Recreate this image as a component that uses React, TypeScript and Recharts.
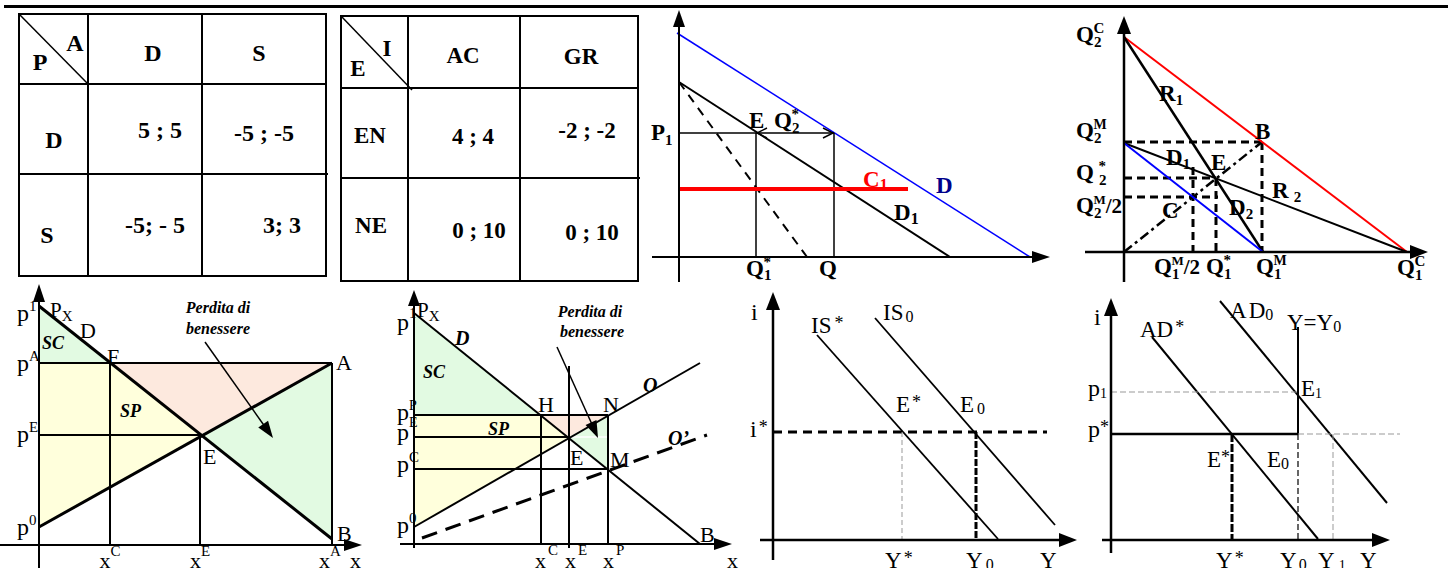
import React from 'react';
import { ComposedChart, Line, Area, XAxis, YAxis, ReferenceLine, ReferenceDot } from 'recharts';

type Pt = { q: number; p: number };
type Rg = { q: number; r: [number, number] };

// payoff tables
const tabACols = ['D', 'S'];
const tabARows = ['D', 'S'];
const tabAPay = [['5 ; 5', '-5 ; -5'], ['-5; - 5', '3; 3']];
const tabBCols = ['AC', 'GR'];
const tabBRows = ['EN', 'NE'];
const tabBPay = [['4 ; 4', '-2 ; -2'], ['0 ; 10', '0 ; 10']];

// market: total demand D, residual demand D1, its marginal revenue, cost C1
const mktD: Pt[] = [{ q: -2, p: 224 }, { q: 351, p: 0 }];
const mktD1: Pt[] = [{ q: 0, p: 175 }, { q: 271, p: 0 }];
const mktMR: Pt[] = [{ q: 0, p: 175 }, { q: 128, p: 0 }];
const mktC1: Pt[] = [{ q: 0, p: 68 }, { q: 229, p: 68 }];
const mktLevels = [124, 77, 155]; // P1, Q1*, Q

// cournot reaction functions
const crRed: Pt[] = [{ q: 0, p: 215 }, { q: 283, p: 0 }];
const crR1: Pt[] = [{ q: 0, p: 215 }, { q: 139, p: 0 }];
const crR2: Pt[] = [{ q: 0, p: 109 }, { q: 283, p: 0 }];
const crBlue: Pt[] = [{ q: 0, p: 109 }, { q: 139, p: 0 }];
const crDiag: Pt[] = [{ q: 0, p: 0 }, { q: 138, p: 110 }];
const crPoints = [[138, 110], [92, 74], [69, 55]]; // B, E, C

// welfare 1 (price ceiling)
const w1Demand: Pt[] = [{ q: 0, p: 239 }, { q: 293, p: 6 }];
const w1Supply: Pt[] = [{ q: 0, p: 18 }, { q: 293, p: 182 }];
const w1Prices = [182, 110]; // pA, pE
const w1Qty = [71, 161, 293]; // xC, xE, xA
const w1SC: Rg[] = [{ q: 0, r: [182, 239] }, { q: 71, r: [182, 182] }];
const w1SP: Rg[] = [{ q: 0, r: [18, 182] }, { q: 71, r: [58, 182] }, { q: 161, r: [110, 110] }];
const w1Loss: Rg[] = [{ q: 71, r: [182, 182] }, { q: 161, r: [110, 182] }, { q: 293, r: [182, 182] }];
const w1Green: Rg[] = [{ q: 161, r: [110, 110] }, { q: 293, r: [6, 182] }];

// welfare 2 (subsidy)
const w2Demand: Pt[] = [{ q: 0, p: 231 }, { q: 286, p: 0 }];
const w2Supply: Pt[] = [{ q: 0, p: 17 }, { q: 286, p: 181 }];
const w2Supply2: Pt[] = [{ q: 8, p: 6 }, { q: 293, p: 109 }];
const w2Prices = [129, 107, 75]; // pP, pE, pC
const w2Qty = [127, 155, 194]; // xC, xE, xP
const w2SC: Rg[] = [{ q: 0, r: [129, 231] }, { q: 127, r: [129, 129] }];
const w2SP: Rg[] = [{ q: 0, r: [17, 129] }, { q: 127, r: [90, 129] }, { q: 155, r: [107, 107] }];
const w2Loss: Rg[] = [{ q: 127, r: [129, 129] }, { q: 155, r: [107, 129] }, { q: 194, r: [129, 129] }];
const w2Green: Rg[] = [{ q: 155, r: [107, 107] }, { q: 194, r: [74, 129] }];

// IS
const isStar: Pt[] = [{ q: 44, p: 205 }, { q: 225, p: 1 }];
const isZero: Pt[] = [{ q: 102, p: 222 }, { q: 282, p: 15 }];
const isLevels = [108, 129, 203]; // i*, Y*, Y0

// AD
const adStar: Pt[] = [{ q: 41, p: 203 }, { q: 207, p: 1 }];
const adZero: Pt[] = [{ q: 109, p: 239 }, { q: 276, p: 37 }];
const adPrices = [106, 148, 213]; // p*, p1, top of Y=Y0
const adQty = [121, 187, 222, 289]; // Y*, Y0, Y1, end of guide

const SERIF = '"Liberation Serif", "Times New Roman", serif';

let kc = 0;
const k = () => `k${kc++}`;

type Part = string | { t: string; b?: number; s?: number; dx?: number };
type LabOpt = { size?: number; bold?: boolean; italic?: boolean; anchor?: 'start' | 'middle' | 'end'; fill?: string };

function lab(x: number, y: number, parts: Part[], o: LabOpt = {}) {
  return (
    <ReferenceDot
      key={k()}
      x={x}
      y={y}
      r={1}
      ifOverflow="visible"
      shape={(p: any) => {
        let cur = 0;
        return (
          <text
            x={p.cx}
            y={p.cy}
            fontFamily={SERIF}
            fontSize={o.size ?? 22}
            fontWeight={o.bold ? 700 : 400}
            fontStyle={o.italic ? 'italic' : 'normal'}
            textAnchor={o.anchor ?? 'start'}
            fill={o.fill ?? '#000'}
          >
            {parts.map((pt, i) => {
              const d = typeof pt === 'string' ? { t: pt } : pt;
              const b = d.b ?? 0;
              const dy = b - cur;
              cur = b;
              return (
                <tspan key={i} dy={dy} dx={d.dx} fontSize={d.s}>
                  {d.t}
                </tspan>
              );
            })}
          </text>
        );
      }}
    />
  );
}

function seg(x1: number, y1: number, x2: number, y2: number, w = 1.5, stroke = '#000', dash?: string) {
  return (
    <ReferenceLine
      key={k()}
      segment={[{ x: x1, y: y1 }, { x: x2, y: y2 }]}
      stroke={stroke}
      strokeWidth={w}
      strokeDasharray={dash}
      ifOverflow="visible"
    />
  );
}

function head(x: number, y: number, dq: number, dp: number, len = 16, half = 6, open = false) {
  return (
    <ReferenceDot
      key={k()}
      x={x}
      y={y}
      r={1}
      ifOverflow="visible"
      shape={(p: any) => {
        const n = Math.hypot(dq, dp);
        const ux = dq / n;
        const uy = -dp / n;
        const bx = p.cx - ux * len;
        const by = p.cy - uy * len;
        const a = [bx - uy * half, by + ux * half];
        const c = [bx + uy * half, by - ux * half];
        if (open) {
          return <polyline points={`${a[0]},${a[1]} ${p.cx},${p.cy} ${c[0]},${c[1]}`} fill="none" stroke="#000" strokeWidth={1.5} />;
        }
        return <polygon points={`${p.cx},${p.cy} ${a[0]},${a[1]} ${c[0]},${c[1]}`} fill="#000" />;
      }}
    />
  );
}

function ln(data: Pt[], w = 2, stroke = '#000', dash?: string) {
  return (
    <Line
      key={k()}
      data={data}
      dataKey="p"
      type="linear"
      stroke={stroke}
      strokeWidth={w}
      strokeDasharray={dash}
      dot={false}
      activeDot={false}
      isAnimationActive={false}
      legendType="none"
    />
  );
}

function fill(data: Rg[], color: string) {
  return (
    <Area
      key={k()}
      data={data}
      dataKey="r"
      type="linear"
      stroke="none"
      fill={color}
      fillOpacity={1}
      dot={false}
      activeDot={false}
      isAnimationActive={false}
      legendType="none"
    />
  );
}

function panel(left: number, top: number, width: number, height: number, xd: [number, number], yd: [number, number], kids: React.ReactNode[]) {
  return (
    <div key={k()} style={{ position: 'absolute', left, top, width, height }}>
      <ComposedChart width={width} height={height} margin={{ top: 0, right: 0, bottom: 0, left: 0 }}>
        <XAxis type="number" dataKey="q" domain={xd} hide allowDataOverflow />
        <YAxis type="number" domain={yd} hide allowDataOverflow />
        {kids}
      </ComposedChart>
    </div>
  );
}

const GREEN = '#e2fae2';
const YELLOW = '#ffffdc';
const PINK = '#fde9de';

function PayoffTable(props: {
  box: [number, number, number, number];
  cols: number[];
  rows: number[];
  diag: [number, number];
  corner: [string, number, number, string, number, number];
  head: string[];
  headPos: [number, number][];
  side: string[];
  sidePos: [number, number][];
  pay: string[][];
  payPos: [number, number][][];
  size: number;
}) {
  const [x0, y0, x1, y1] = props.box;
  const st = { fontFamily: SERIF, fontWeight: 700, fontSize: props.size } as const;
  return (
    <g>
      <rect x={x0} y={y0} width={x1 - x0} height={y1 - y0} fill="none" stroke="#000" strokeWidth={2} />
      {props.cols.map((c) => (
        <line key={'c' + c} x1={c} y1={y0} x2={c} y2={y1} stroke="#000" strokeWidth={2} />
      ))}
      {props.rows.map((r, i) => (
        <line key={'r' + r} x1={x0} y1={r} x2={i === 1 ? x1 + 2 : x1} y2={r} stroke="#000" strokeWidth={2} />
      ))}
      <line x1={x0} y1={y0} x2={props.diag[0]} y2={props.diag[1]} stroke="#000" strokeWidth={1.5} />
      <text x={props.corner[1]} y={props.corner[2]} textAnchor="middle" {...st}>{props.corner[0]}</text>
      <text x={props.corner[4]} y={props.corner[5]} textAnchor="middle" {...st}>{props.corner[3]}</text>
      {props.head.map((h, i) => (
        <text key={'h' + i} x={props.headPos[i][0]} y={props.headPos[i][1]} textAnchor="middle" {...st}>{h}</text>
      ))}
      {props.side.map((h, i) => (
        <text key={'s' + i} x={props.sidePos[i][0]} y={props.sidePos[i][1]} textAnchor="middle" {...st}>{h}</text>
      ))}
      {props.pay.map((row, i) =>
        row.map((v, j) => (
          <text key={'p' + i + j} x={props.payPos[i][j][0]} y={props.payPos[i][j][1]} textAnchor="middle" {...st} style={{ whiteSpace: 'pre' }}>{v}</text>
        ))
      )}
    </g>
  );
}

export default function App() {
  kc = 0;
  const [mP1, mQ1, mQ] = mktLevels;
  const [[bq, bp], [eq, ep], [cq, cp]] = crPoints;
  const [w1pA, w1pE] = w1Prices;
  const [w1xC, w1xE, w1xA] = w1Qty;
  const [w2pP, w2pE, w2pC] = w2Prices;
  const [w2xC, w2xE, w2xP] = w2Qty;
  const [iS, yS, y0] = isLevels;
  const [aPs, aP1, aTop] = adPrices;
  const [aYs, aY0, aY1, aEnd] = adQty;
  const B = { bold: true, size: 23 };
  const BI = { bold: true, italic: true, size: 18 };
  const P = { size: 24 };

  return (
    <div style={{ position: 'absolute', left: 0, top: 0, width: 1456, height: 568, background: '#fff', overflow: 'hidden' }}>
      <div style={{ position: 'absolute', left: 4, top: 5, width: 1444, height: 3, background: '#000' }} />
      <svg width={1456} height={290} style={{ position: 'absolute', left: 0, top: 0 }}>
        <PayoffTable
          box={[19, 14, 326, 276]}
          cols={[88, 202]}
          rows={[84, 174]}
          diag={[89, 85]}
          corner={['A', 75, 51, 'P', 40, 70]}
          head={tabACols}
          headPos={[[153, 61], [259, 61]]}
          side={tabARows}
          sidePos={[[54, 148], [47, 243]]}
          pay={tabAPay}
          payPos={[[[160, 138], [264, 141]], [[155, 233], [282, 233]]]}
          size={24}
        />
        <PayoffTable
          box={[341, 16, 638, 281]}
          cols={[408, 520]}
          rows={[88, 178]}
          diag={[412, 90]}
          corner={['I', 387, 56, 'E', 358, 76]}
          head={tabBCols}
          headPos={[[463, 63], [581, 64]]}
          side={tabBRows}
          sidePos={[[370, 143], [371, 233]]}
          pay={tabBPay}
          payPos={[[[473, 144], [587, 138]], [[479, 238], [592, 240]]]}
          size={23}
        />
      </svg>

      {panel(645, 8, 415, 274, [-34, 381], [-25, 249], [
        ln(mktD, 1.5, '#0000ff'),
        ln(mktD1, 2),
        ln(mktMR, 2, '#000', '9 7'),
        seg(0, mP1, mQ, mP1, 1.5),
        seg(mQ1, mP1, mQ1, 0, 1.5),
        seg(mQ, mP1, mQ, 0, 1.5),
        ln(mktC1, 4, '#ff0000'),
        head(mQ1 + 1, mP1, -1, 0, 10, 5, true),
        head(mQ - 1, mP1, 1, 0, 10, 5, true),
        seg(0, -25, 0, 235, 2),
        head(0, 247, 0, 1, 17, 6),
        seg(-27, 0, 356, 0, 2),
        head(371, 0, 1, 0, 18, 6),
        lab(-28, 117, ['P', { t: '1', b: 5, s: 15 }], B),
        lab(70, 129, ['E'], B),
        lab(95, 129, ['Q', { t: '2', b: 5, s: 15 }, { t: '*', b: -9, s: 15, dx: -8 }], B),
        lab(184, 70, ['C', { t: '1', b: 3, s: 16 }], { ...B, fill: '#ff0000' }),
        lab(257, 64, ['D'], { ...B, fill: '#00008b' }),
        lab(215, 37, ['D', { t: '1', b: 4, s: 16 }], B),
        lab(67, -19, ['Q', { t: '1', b: 4, s: 15 }, { t: '*', b: -9, s: 15, dx: -8 }], B),
        lab(140, -19, ['Q'], B),
      ])}

      {panel(1075, 8, 381, 274, [-49, 332], [-30, 244], [
        seg(0, bp, bq, bp, 3, '#000', '8 5'),
        seg(bq, bp, bq, 0, 3, '#000', '8 5'),
        seg(0, ep, eq, ep, 3, '#000', '8 5'),
        seg(eq, ep, eq, 0, 3, '#000', '8 5'),
        seg(0, cp, eq + 2, cp, 3, '#000', '8 5'),
        seg(cq, 85, cq, 0, 3, '#000', '8 5'),
        ln(crDiag, 2.5, '#000', '10 4 3 4'),
        ln(crRed, 2, '#ff0000'),
        ln(crR1, 2.5),
        ln(crR2, 2),
        ln(crBlue, 2, '#0000ff'),
        seg(0, -30, 0, 220, 2.5),
        head(0, 236, 0, 1, 18, 7),
        seg(-39, 0, 288, 0, 2.5),
        head(304, 0, 1, 0, 18, 7),
        lab(-48, 210, ['Q', { t: '2', b: 5, s: 15 }, { t: 'C', b: -9, s: 15, dx: -8 }], B),
        lab(-48, 114, ['Q', { t: '2', b: 5, s: 15 }, { t: 'M', b: -9, s: 14, dx: -8 }], B),
        lab(-48, 72, ['Q', { t: '2', b: 5, s: 15, dx: 5 }, { t: '*', b: -9, s: 15, dx: -8 }], B),
        lab(-48, 39, ['Q', { t: '2', b: 5, s: 15 }, { t: 'M', b: -9, s: 13, dx: -8 }, { t: '/2', b: 0, s: 21 }], B),
        lab(35, 151, ['R', { t: '1', b: 4, s: 15 }], B),
        lab(131, 113, ['B'], B),
        lab(42, 87, ['D', { t: '1', b: 4, s: 15 }], B),
        lab(87, 82, ['E'], B),
        lab(148, 54, ['R', { t: '2', b: 4, s: 15, dx: 5 }], B),
        lab(38, 34, ['C'], B),
        lab(105, 37, ['D', { t: '2', b: 4, s: 15 }], B),
        lab(30, -22, ['Q', { t: '1', b: 5, s: 15 }, { t: 'M', b: -9, s: 13, dx: -8 }, { t: '/2', b: 0, s: 21 }], B),
        lab(82, -22, ['Q', { t: '1', b: 5, s: 15 }, { t: '*', b: -9, s: 15, dx: -8 }], B),
        lab(132, -22, ['Q', { t: '1', b: 5, s: 15 }, { t: 'M', b: -9, s: 14, dx: -8 }], B),
        lab(273, -23, ['Q', { t: '1', b: 5, s: 15 }, { t: 'C', b: -9, s: 15, dx: -8 }], B),
      ])}

      {panel(0, 282, 372, 286, [-39, 333], [-23, 263], [
        fill(w1SC, GREEN),
        fill(w1SP, YELLOW),
        fill(w1Loss, PINK),
        fill(w1Green, GREEN),
        seg(0, w1pA, w1xA, w1pA, 2),
        seg(0, w1pE, w1xE, w1pE, 2),
        seg(w1xC, w1pA, w1xC, 0, 2),
        seg(w1xE, w1pE, w1xE, 0, 2),
        seg(w1xA, w1pA, w1xA, 0, 2),
        ln(w1Demand, 3),
        ln(w1Supply, 3),
        seg(0, -23, 0, 245, 2),
        head(0, 261, 0, 1, 18, 6),
        seg(-39, 0, 306, 0, 2),
        head(323, 0, 1, 0, 18, 6),
        seg(166, 203, 229, 114, 1.5),
        head(234, 107, 68, -96, 17, 6),
        lab(179, 232, ['Perdita di'], { bold: true, italic: true, size: 16, anchor: 'middle' }),
        lab(179, 211, ['benessere'], { bold: true, italic: true, size: 16, anchor: 'middle' }),
        lab(-22, 224, ['p', { t: '1', b: -10, s: 15 }], P),
        lab(11, 228, ['P', { t: 'X', b: 4, s: 15 }], { size: 21 }),
        lab(41, 207, ['D']),
        lab(3, 196, ['SC'], BI),
        lab(68, 181, ['F']),
        lab(297, 175, ['A']),
        lab(81, 128, ['SP'], BI),
        lab(164, 81, ['E']),
        lab(298, 4, ['B']),
        lab(-22, 174, ['p', { t: 'A', b: -10, s: 15 }], P),
        lab(-22, 103, ['p', { t: 'E', b: -10, s: 15 }], P),
        lab(-22, 10, ['p', { t: '0', b: -10, s: 15 }], P),
        lab(w1xC, -23, ['x', { t: 'C', b: -12, s: 15 }], { anchor: 'middle' }),
        lab(w1xE, -23, ['x', { t: 'E', b: -12, s: 15 }], { anchor: 'middle' }),
        lab(w1xA - 2, -23, ['x', { t: 'A', b: -12, s: 15 }], { anchor: 'middle' }),
        lab(311, -23, ['x']),
      ])}

      {panel(372, 282, 370, 286, [-42, 328], [-24, 262], [
        fill(w2SC, GREEN),
        fill(w2SP, YELLOW),
        fill(w2Loss, PINK),
        fill(w2Green, GREEN),
        seg(w2xE, w2pE, w2xP, w2pE, 1.5, '#fff'),
        seg(0, w2pP, w2xP, w2pP, 2),
        seg(0, w2pE, w2xE, w2pE, 2),
        seg(0, w2pC, w2xP, w2pC, 2),
        seg(w2xC, w2pP, w2xC, 0, 2),
        seg(w2xE, 178, w2xE, -4, 2),
        seg(w2xP, w2pP, w2xP, 0, 2),
        ln(w2Demand, 2),
        ln(w2Supply, 2),
        ln(w2Supply2, 3, '#000', '16 9'),
        seg(0, -4, 0, 238, 2),
        head(0, 254, 0, 1, 16, 6),
        seg(-14, 0, 302, 0, 2),
        head(318, 0, 1, 0, 18, 6),
        seg(143, 197, 181, 113, 1.5),
        head(184, 106, 41, -91, 17, 6),
        lab(176, 227, ['Perdita di'], { bold: true, italic: true, size: 16, anchor: 'middle' }),
        lab(178, 207, ['benessere'], { bold: true, italic: true, size: 16, anchor: 'middle' }),
        lab(-17, 214, ['p', { t: '1', b: -12, s: 15 }], P),
        lab(3, 227, ['P', { t: 'X', b: 4, s: 15 }], { size: 21 }),
        lab(41, 199, ['D'], { bold: true, italic: true, size: 20 }),
        lab(9, 166, ['SC'], BI),
        lab(124, 132, ['H']),
        lab(189, 132, ['N']),
        lab(229, 152, ['O'], { bold: true, italic: true, size: 20 }),
        lab(254, 99, ['O’'], { bold: true, italic: true, size: 20 }),
        lab(74, 109, ['SP'], BI),
        lab(156, 79, ['E']),
        lab(196, 77, ['M']),
        lab(286, 2, ['B']),
        lab(-17, 124, ['p', { t: 'P', b: -10, s: 14 }], P),
        lab(-17, 104, ['p', { t: 'E', b: -13, s: 14 }], P),
        lab(-17, 72, ['p', { t: 'C', b: -10, s: 15 }], P),
        lab(-17, 11, ['p', { t: '0', b: -10, s: 15 }], P),
        lab(w2xC - 6, -24, ['x', { t: 'C', b: -13, s: 15, dx: 2 }]),
        lab(w2xE - 4, -24, ['x', { t: 'E', b: -13, s: 15, dx: 2 }]),
        lab(w2xP - 5, -24, ['x', { t: 'P', b: -13, s: 15, dx: 2 }]),
        lab(313, -24, ['x']),
      ])}

      {panel(742, 282, 340, 286, [-31, 309], [-28, 258], [
        ln(isStar, 1.8),
        ln(isZero, 1.8),
        seg(0, iS, 274, iS, 3, '#000', '9 6'),
        seg(yS, iS, yS, 0, 1, '#999', '5 3'),
        seg(y0, iS, y0, 0, 3, '#000', '7 2'),
        seg(0, -20, 0, 232, 2.5),
        head(0, 248, 0, 1, 18, 7),
        seg(-13, 0, 288, 0, 2.5),
        head(304, 0, 1, 0, 18, 7),
        lab(-22, 220, ['i'], P),
        lab(38, 207, ['IS', { t: '*', b: -4, s: 18, dx: 3 }], { size: 23 }),
        lab(110, 220, ['IS', { t: '0', b: 2, s: 16, dx: 2 }], { size: 23 }),
        lab(123, 128, ['E', { t: '*', b: -4, s: 18, dx: 2 }], { size: 23 }),
        lab(187, 128, ['E', { t: '0', b: 2, s: 16, dx: 3 }], { size: 23 }),
        lab(-23, 103, ['i', { t: '*', b: -4, s: 18, dx: 2 }], P),
        lab(112, -28, ['Y', { t: '*', b: -4, s: 18, dx: 2 }], { size: 23 }),
        lab(193, -28, ['Y', { t: '0', b: 2, s: 16, dx: 3 }], { size: 23 }),
        lab(267, -28, ['Y'], { size: 23 }),
      ])}

      {panel(1082, 282, 374, 286, [-29, 345], [-28, 258], [
        ln(adStar, 2),
        ln(adZero, 2),
        seg(aY0, aTop, aY0, aPs, 2),
        seg(0, aP1, aY0, aP1, 1, '#999', '6 3'),
        seg(0, aPs, aY0, aPs, 2.5),
        seg(aY0, aPs, aEnd, aPs, 1, '#999', '6 3'),
        seg(aYs, aPs, aYs, 0, 3, '#000', '8 2'),
        seg(aY0, aPs, aY0, 0, 1.2, '#000', '6 3'),
        seg(aY1, aPs, aY1, 0, 1, '#999', '6 3'),
        seg(0, -13, 0, 226, 2.5),
        head(0, 242, 0, 1, 18, 7),
        seg(-9, 0, 263, 0, 2.5),
        head(279, 0, 1, 0, 18, 7),
        lab(-17, 215, ['i'], P),
        lab(29, 203, ['AD', { t: '*', b: -4, s: 18, dx: 2 }], { size: 23 }),
        lab(119, 222, ['A', { t: 'D', dx: 2 }, { t: '0', b: 2, s: 16 }], { size: 23 }),
        lab(176, 210, ['Y=Y', { t: '0', b: 2, s: 16 }], { size: 23 }),
        lab(-23, 144, ['p', { t: '1', b: 2, s: 14 }], P),
        lab(190, 144, ['E', { t: '1', b: 2, s: 14 }], { size: 23 }),
        lab(-23, 103, ['p', { t: '*', b: -4, s: 18 }], P),
        lab(96, 73, ['E', { t: '*', b: -4, s: 18 }], { size: 23 }),
        lab(156, 73, ['E', { t: '0', b: 2, s: 16 }], { size: 23 }),
        lab(105, -28, ['Y', { t: '*', b: -4, s: 18, dx: 2 }], { size: 23 }),
        lab(169, -28, ['Y', { t: '0', b: 2, s: 16, dx: 2 }], { size: 23 }),
        lab(207, -28, ['Y', { t: '1', b: 2, s: 14, dx: 4 }], { size: 23 }),
        lab(249, -28, ['Y'], { size: 23 }),
      ])}
    </div>
  );
}
